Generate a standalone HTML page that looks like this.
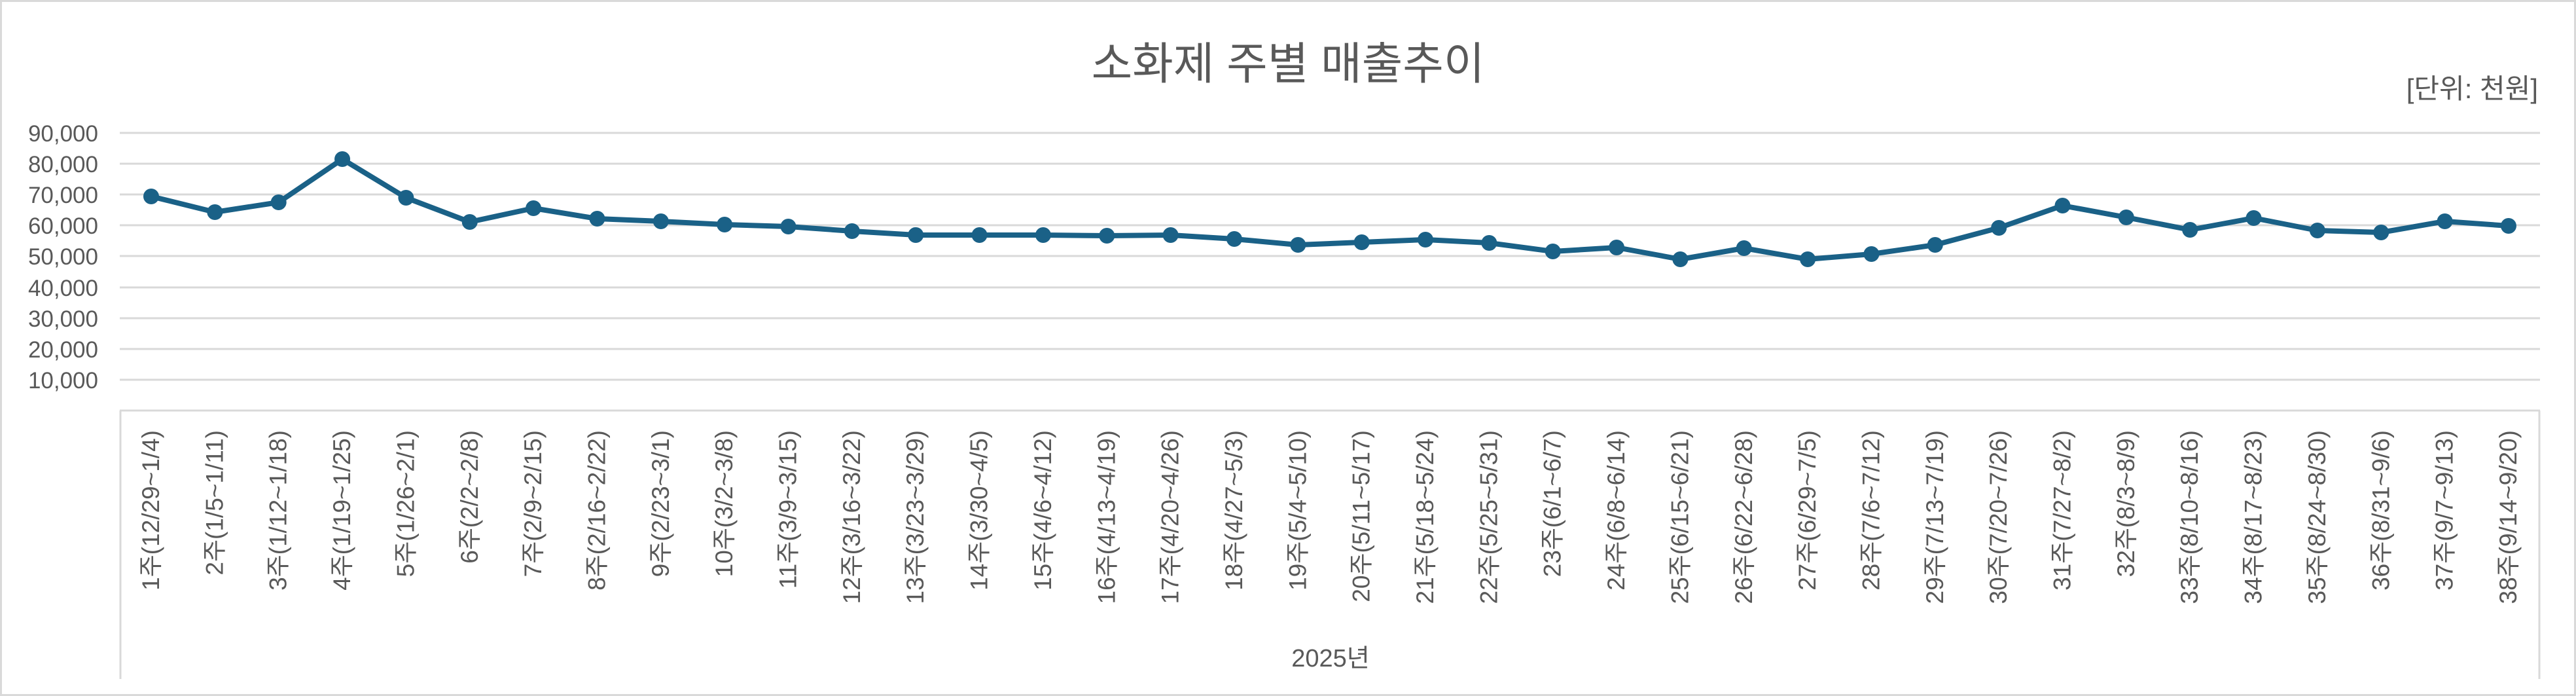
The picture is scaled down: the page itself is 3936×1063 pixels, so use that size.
<!DOCTYPE html>
<html><head><meta charset="utf-8"><style>
html,body{margin:0;padding:0;background:#fff;}
svg{display:block;}
text{font-family:"Liberation Sans","Noto Sans CJK KR",sans-serif;fill:#595959;}
</style></head><body>
<svg width="3936" height="1063" viewBox="0 0 3936 1063" xmlns="http://www.w3.org/2000/svg">
<rect x="1.5" y="1.5" width="3933" height="1060" fill="#fff" stroke="#d9d9d9" stroke-width="3"/>
<text x="1968" y="121" font-size="68" text-anchor="middle">소화제 주별 매출추이</text>
<text x="3878" y="150" font-size="42" text-anchor="end">[단위: 천원]</text>
<g stroke="#d9d9d9" stroke-width="3">
<line x1="183" x2="3881" y1="203" y2="203"/>
<line x1="183" x2="3881" y1="250" y2="250"/>
<line x1="183" x2="3881" y1="297" y2="297"/>
<line x1="183" x2="3881" y1="344" y2="344"/>
<line x1="183" x2="3881" y1="391" y2="391"/>
<line x1="183" x2="3881" y1="439" y2="439"/>
<line x1="183" x2="3881" y1="486" y2="486"/>
<line x1="183" x2="3881" y1="533" y2="533"/>
<line x1="183" x2="3881" y1="580" y2="580"/>
<line x1="183" x2="3881" y1="627" y2="627"/>
<line x1="184" x2="184" y1="627" y2="1037"/>
<line x1="3880" x2="3880" y1="627" y2="1037"/>
</g>
<g font-size="35" text-anchor="end">
<text x="150" y="216">90,000</text>
<text x="150" y="263">80,000</text>
<text x="150" y="310">70,000</text>
<text x="150" y="357">60,000</text>
<text x="150" y="404">50,000</text>
<text x="150" y="452">40,000</text>
<text x="150" y="499">30,000</text>
<text x="150" y="546">20,000</text>
<text x="150" y="593">10,000</text>
</g>
<polyline fill="none" stroke="#1a6187" stroke-width="8" stroke-linejoin="round" points="231,300 328.35,324 425.7,309 523.05,243 620.4,302 717.75,339 815.1,318 912.45,334 1009.8,338 1107.15,343 1204.5,346 1301.85,353 1399.2,359 1496.55,359 1593.9,359 1691.25,360 1788.6,359 1885.95,365 1983.3,374 2080.65,370 2178,366 2275.35,371 2372.7,384 2470.05,378 2567.4,396 2664.75,379 2762.1,396 2859.45,388 2956.8,374 3054.15,348 3151.5,314 3248.85,332 3346.2,351 3443.55,333 3540.9,352 3638.25,355 3735.6,338 3832.95,345"/>
<g fill="#1a6187">
<circle cx="231" cy="300" r="12"/><circle cx="328.35" cy="324" r="12"/><circle cx="425.7" cy="309" r="12"/><circle cx="523.05" cy="243" r="12"/><circle cx="620.4" cy="302" r="12"/><circle cx="717.75" cy="339" r="12"/><circle cx="815.1" cy="318" r="12"/><circle cx="912.45" cy="334" r="12"/><circle cx="1009.8" cy="338" r="12"/><circle cx="1107.15" cy="343" r="12"/><circle cx="1204.5" cy="346" r="12"/><circle cx="1301.85" cy="353" r="12"/><circle cx="1399.2" cy="359" r="12"/><circle cx="1496.55" cy="359" r="12"/><circle cx="1593.9" cy="359" r="12"/><circle cx="1691.25" cy="360" r="12"/><circle cx="1788.6" cy="359" r="12"/><circle cx="1885.95" cy="365" r="12"/><circle cx="1983.3" cy="374" r="12"/><circle cx="2080.65" cy="370" r="12"/><circle cx="2178" cy="366" r="12"/><circle cx="2275.35" cy="371" r="12"/><circle cx="2372.7" cy="384" r="12"/><circle cx="2470.05" cy="378" r="12"/><circle cx="2567.4" cy="396" r="12"/><circle cx="2664.75" cy="379" r="12"/><circle cx="2762.1" cy="396" r="12"/><circle cx="2859.45" cy="388" r="12"/><circle cx="2956.8" cy="374" r="12"/><circle cx="3054.15" cy="348" r="12"/><circle cx="3151.5" cy="314" r="12"/><circle cx="3248.85" cy="332" r="12"/><circle cx="3346.2" cy="351" r="12"/><circle cx="3443.55" cy="333" r="12"/><circle cx="3540.9" cy="352" r="12"/><circle cx="3638.25" cy="355" r="12"/><circle cx="3735.6" cy="338" r="12"/><circle cx="3832.95" cy="345" r="12"/>
</g>
<g font-size="37" text-anchor="end">
<text transform="translate(243,657) rotate(-90)">1주(12/29~1/4)</text>
<text transform="translate(340.35,657) rotate(-90)">2주(1/5~1/11)</text>
<text transform="translate(437.7,657) rotate(-90)">3주(1/12~1/18)</text>
<text transform="translate(535.05,657) rotate(-90)">4주(1/19~1/25)</text>
<text transform="translate(632.4,657) rotate(-90)">5주(1/26~2/1)</text>
<text transform="translate(729.75,657) rotate(-90)">6주(2/2~2/8)</text>
<text transform="translate(827.1,657) rotate(-90)">7주(2/9~2/15)</text>
<text transform="translate(924.45,657) rotate(-90)">8주(2/16~2/22)</text>
<text transform="translate(1021.8,657) rotate(-90)">9주(2/23~3/1)</text>
<text transform="translate(1119.15,657) rotate(-90)">10주(3/2~3/8)</text>
<text transform="translate(1216.5,657) rotate(-90)">11주(3/9~3/15)</text>
<text transform="translate(1313.85,657) rotate(-90)">12주(3/16~3/22)</text>
<text transform="translate(1411.2,657) rotate(-90)">13주(3/23~3/29)</text>
<text transform="translate(1508.55,657) rotate(-90)">14주(3/30~4/5)</text>
<text transform="translate(1605.9,657) rotate(-90)">15주(4/6~4/12)</text>
<text transform="translate(1703.25,657) rotate(-90)">16주(4/13~4/19)</text>
<text transform="translate(1800.6,657) rotate(-90)">17주(4/20~4/26)</text>
<text transform="translate(1897.95,657) rotate(-90)">18주(4/27~5/3)</text>
<text transform="translate(1995.3,657) rotate(-90)">19주(5/4~5/10)</text>
<text transform="translate(2092.65,657) rotate(-90)">20주(5/11~5/17)</text>
<text transform="translate(2190,657) rotate(-90)">21주(5/18~5/24)</text>
<text transform="translate(2287.35,657) rotate(-90)">22주(5/25~5/31)</text>
<text transform="translate(2384.7,657) rotate(-90)">23주(6/1~6/7)</text>
<text transform="translate(2482.05,657) rotate(-90)">24주(6/8~6/14)</text>
<text transform="translate(2579.4,657) rotate(-90)">25주(6/15~6/21)</text>
<text transform="translate(2676.75,657) rotate(-90)">26주(6/22~6/28)</text>
<text transform="translate(2774.1,657) rotate(-90)">27주(6/29~7/5)</text>
<text transform="translate(2871.45,657) rotate(-90)">28주(7/6~7/12)</text>
<text transform="translate(2968.8,657) rotate(-90)">29주(7/13~7/19)</text>
<text transform="translate(3066.15,657) rotate(-90)">30주(7/20~7/26)</text>
<text transform="translate(3163.5,657) rotate(-90)">31주(7/27~8/2)</text>
<text transform="translate(3260.85,657) rotate(-90)">32주(8/3~8/9)</text>
<text transform="translate(3358.2,657) rotate(-90)">33주(8/10~8/16)</text>
<text transform="translate(3455.55,657) rotate(-90)">34주(8/17~8/23)</text>
<text transform="translate(3552.9,657) rotate(-90)">35주(8/24~8/30)</text>
<text transform="translate(3650.25,657) rotate(-90)">36주(8/31~9/6)</text>
<text transform="translate(3747.6,657) rotate(-90)">37주(9/7~9/13)</text>
<text transform="translate(3844.95,657) rotate(-90)">38주(9/14~9/20)</text>
</g>
<text x="2033" y="1018" font-size="38" text-anchor="middle">2025년</text>
</svg>
</body></html>
